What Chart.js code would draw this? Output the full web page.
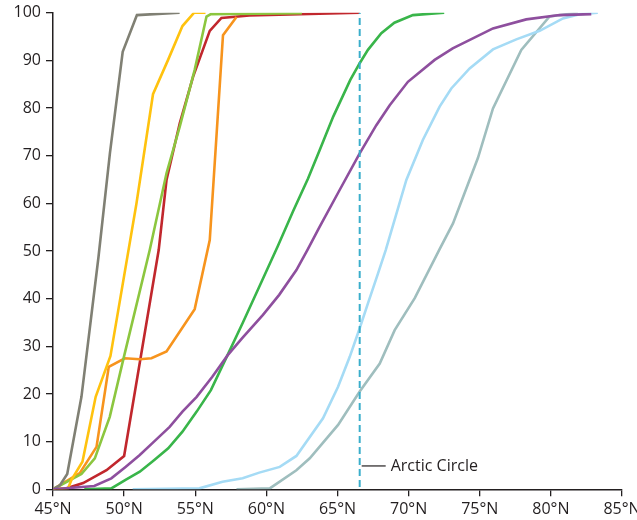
<!DOCTYPE html>
<html>
<head>
<meta charset="utf-8">
<script src="https://cdn.jsdelivr.net/npm/chart.js@4.4.1/dist/chart.umd.min.js"></script>
<style>
html,body{margin:0;padding:0;background:#fff;}
canvas{display:block;}
</style>
</head>
<body>
<canvas id="c" width="637" height="520"></canvas>
<script>
// Tick labels / axis
const xTicks = [45, 50, 55, 60, 65, 70, 75, 80, 85];
const yTicks = [0, 10, 20, 30, 40, 50, 60, 70, 80, 90, 100];
const arcticLat = 66.56;
const arcticLabelY = 4.9;
const arcticLabel = "Arctic Circle";

// Series (latitude °N, cumulative %)
const grayLat = [45, 45.5, 46.0, 47.0, 48.2, 49.0, 49.9, 50.9, 53.9];
const grayPct = [0, 0.9, 3.2, 19.4, 48.8, 70.5, 91.8, 99.5, 100];

const yellowLat = [45, 46.06, 46.3, 47.07, 48.0, 49.04, 50.87, 52.03, 53.09, 54.1, 54.92, 55.72];
const yellowPct = [0, 0.2, 2.0, 5.8, 19.4, 28.0, 60.0, 82.9, 90.1, 97.2, 100, 100];

const limeLat = [45, 47.0, 47.94, 48.99, 49.93, 51.8, 52.98, 53.91, 54.96, 55.79, 56.1, 62.5];
const limePct = [0, 3.2, 6.5, 15.2, 27.1, 50.2, 66.3, 76.1, 88.0, 99.2, 99.7, 99.9];

const redLat = [45, 45.95, 47.12, 48.76, 50.0, 52.43, 52.98, 53.91, 54.85, 56.02, 56.84, 58.8, 66.56];
const redPct = [0, 0.2, 1.3, 4.0, 7.0, 50.2, 64.9, 76.8, 86.6, 96.2, 98.9, 99.4, 100];

const orangeLat = [45, 46.88, 48.06, 48.92, 50.05, 51.1, 51.92, 52.98, 54.96, 56.02, 56.95, 57.9];
const orangePct = [0, 3.4, 8.9, 25.7, 27.5, 27.3, 27.5, 28.9, 37.8, 52.3, 95.3, 99.1];

const greenLat = [47.2, 49.1, 50.1, 51.1, 52.1, 53.1, 54.1, 55.1, 56.1, 57.26, 58.35, 59.5, 60.8, 61.9, 62.93, 63.75, 64.7, 65.9, 66.56, 67.14, 68.08, 69.0, 70.3, 72.5];
const greenPct = [0, 0.2, 2.0, 3.7, 6.1, 8.6, 12.1, 16.3, 20.8, 28.1, 35.0, 42.5, 51.0, 58.5, 65.2, 71.2, 78.2, 85.9, 89.4, 92.2, 95.7, 97.9, 99.5, 100];

const purpleLat = [45, 47.9, 49.1, 50.1, 51.1, 52.1, 53.2, 54.1, 55.1, 56.2, 57.27, 58.3, 59.76, 60.9, 62.11, 62.9, 63.75, 65.15, 66.56, 67.73, 68.67, 69.95, 71.83, 73.1, 75.93, 78.27, 80.61, 82.84];
const purplePct = [0, 0.7, 2.3, 4.7, 7.2, 10.0, 13.1, 16.3, 19.4, 23.6, 28.1, 31.7, 36.6, 40.8, 46.0, 50.3, 55.1, 62.8, 70.5, 76.4, 80.6, 85.5, 90.1, 92.5, 96.7, 98.6, 99.5, 99.7];

const skyLat = [50.6, 55.29, 56.92, 58.33, 59.5, 60.94, 62.11, 63.98, 65.04, 65.86, 66.56, 67.14, 67.85, 68.39, 69.84, 71.0, 72.18, 73.0, 74.29, 75.93, 77.57, 79.21, 80.85, 82.02, 83.3];
const skyPct = [0, 0.2, 1.6, 2.3, 3.5, 4.7, 7.0, 14.9, 21.5, 27.8, 33.8, 39.0, 45.3, 50.2, 64.9, 73.3, 80.3, 84.1, 88.3, 92.3, 94.4, 96.2, 98.8, 99.7, 100];

const tealLat = [57.9, 60.24, 62.11, 63.05, 65.04, 66.56, 67.97, 69.02, 70.43, 72.18, 73.12, 74.87, 75.93, 77.92, 79.91, 81.9];
const tealPct = [0, 0.2, 4.0, 6.5, 13.5, 20.5, 26.4, 33.4, 40.1, 50.4, 55.8, 69.5, 79.9, 92.2, 99.2, 100];

const arcticPct = [0.5, 100];

function pts(xs, ys) { return xs.map((x, i) => ({x: x, y: ys[i]})); }
function line(xs, ys, color) {
  return {data: pts(xs, ys), borderColor: color, borderWidth: 2.6, pointRadius: 0, tension: 0, fill: false};
}

const arcticPlugin = {
  id: 'arctic',
  afterDatasetsDraw(chart) {
    const ctx = chart.ctx;
    const px = chart.scales.x.getPixelForValue(arcticLat);
    const py = chart.scales.y.getPixelForValue(arcticLabelY);
    ctx.save();
    ctx.strokeStyle = '#231f20';
    ctx.lineWidth = 1.2;
    ctx.beginPath();
    ctx.moveTo(px + 2, py);
    ctx.lineTo(px + 26, py);
    ctx.stroke();
    ctx.fillStyle = '#231f20';
    ctx.font = "16px 'Open Sans', sans-serif";
    ctx.textBaseline = 'middle';
    ctx.fillText(arcticLabel, px + 31, py);
    ctx.restore();
  }
};

Chart.defaults.font.family = "'Open Sans', sans-serif";
Chart.defaults.font.size = 16;
Chart.defaults.color = '#231f20';

new Chart(document.getElementById('c'), {
  type: 'line',
  data: {
    datasets: [
      {data: pts([arcticLat, arcticLat], arcticPct), borderColor: '#3aaecb', borderWidth: 2, borderDash: [7, 4], pointRadius: 0, fill: false},
      line(purpleLat, purplePct, '#8e4f9e'),
      line(greenLat, greenPct, '#39b54a'),
      line(skyLat, skyPct, '#a5dbf5'),
      line(tealLat, tealPct, '#9fbebe'),
      line(grayLat, grayPct, '#808074'),
      line(yellowLat, yellowPct, '#ffc20e'),
      line(limeLat, limePct, '#8cc63f'),
      line(orangeLat, orangePct, '#f7941d'),
      line(redLat, redPct, '#c1272d')
    ]
  },
  options: {
    responsive: false,
    animation: false,
    devicePixelRatio: 1,
    layout: {padding: {top: 12.7, right: 15, bottom: 0, left: 0}},
    plugins: {legend: {display: false}, tooltip: {enabled: false}},
    scales: {
      x: {
        type: 'linear', min: 45, max: 85,
        afterBuildTicks(s) { s.ticks = xTicks.map(v => ({value: v})); },
        ticks: {callback: v => v + '°N', maxRotation: 0, autoSkip: false, padding: 4, color: '#231f20'},
        grid: {drawOnChartArea: false, drawTicks: true, tickLength: 7, color: '#231f20', lineWidth: 1.3},
        border: {display: true, color: '#231f20', width: 1.5},
        afterFit(s) { s.height = 30.7; s.paddingLeft = 0; s.paddingRight = 0; }
      },
      y: {
        type: 'linear', min: 0, max: 100,
        afterBuildTicks(s) { s.ticks = yTicks.map(v => ({value: v})); },
        ticks: {padding: 5, color: '#231f20'},
        grid: {drawOnChartArea: false, drawTicks: true, tickLength: 7, color: '#231f20', lineWidth: 1.3},
        border: {display: true, color: '#231f20', width: 1.5},
        afterFit(s) { s.width = 53; s.paddingTop = 0; s.paddingBottom = 0; }
      }
    }
  },
  plugins: [arcticPlugin]
});
</script>
</body>
</html>
